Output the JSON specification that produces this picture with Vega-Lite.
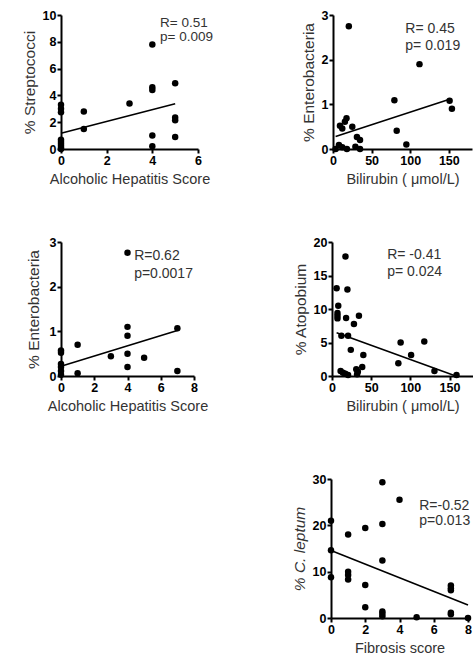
{
  "$schema": "https://vega.github.io/schema/vega-lite/v6.json",
  "padding": {"left": 22, "top": 9, "right": 0, "bottom": 0},
  "background": "white",
  "config": {
    "view": {"stroke": null},
    "axis": {"domainColor": "black", "domainWidth": 2, "tickColor": "black", "tickWidth": 2, "tickSize": 4, "labelFont": "Liberation Sans", "labelFontSize": 12.5, "labelFontWeight": "bold", "labelColor": "black", "labelPadding": 1, "titleFont": "Liberation Sans", "titleFontWeight": "normal", "titleColor": "#333", "grid": false, "labelOverlap": false, "labelFlush": false, "labelBound": false, "format": "d"},
    "axisX": {"titleFontSize": 14.5, "titlePadding": 6},
    "axisY": {"titleFontSize": 15.5, "titlePadding": 5},
    "text": {"font": "Liberation Sans", "fontSize": 14, "color": "#333", "align": "left", "baseline": "alphabetic", "lineBreak": "\n"},
    "point": {"filled": true, "color": "black", "size": 42, "opacity": 1},
    "line": {"color": "black", "strokeWidth": 1.6}
  },
  "datasets": {
    "p1": [
      {"x": 0, "y": 3.3}, {"x": 0, "y": 3.0}, {"x": 0, "y": 2.75}, {"x": 0, "y": 0.7}, {"x": 0, "y": 0.55}, {"x": 0, "y": 0.4}, {"x": 0, "y": 0.25}, {"x": 0, "y": 0.1}, {"x": 0, "y": 0},
      {"x": 1, "y": 2.8}, {"x": 1, "y": 1.5}, {"x": 3, "y": 3.4},
      {"x": 4, "y": 7.8}, {"x": 4, "y": 4.6}, {"x": 4, "y": 4.4}, {"x": 4, "y": 1.0}, {"x": 4, "y": 0.2},
      {"x": 5, "y": 4.9}, {"x": 5, "y": 2.35}, {"x": 5, "y": 2.15}, {"x": 5, "y": 0.9}
    ],
    "l1": [{"x": 0, "y": 1.17}, {"x": 5, "y": 3.38}],
    "p2": [
      {"x": 20.5, "y": 2.75}, {"x": 112, "y": 1.9}, {"x": 79.5, "y": 1.09}, {"x": 151, "y": 1.08}, {"x": 154, "y": 0.9},
      {"x": 82.5, "y": 0.41}, {"x": 95, "y": 0.1}, {"x": 17.5, "y": 0.69}, {"x": 15.4, "y": 0.61}, {"x": 9, "y": 0.52},
      {"x": 12, "y": 0.46}, {"x": 25, "y": 0.5}, {"x": 31, "y": 0.27}, {"x": 35, "y": 0.2}, {"x": 7.7, "y": 0.09},
      {"x": 12, "y": 0.04}, {"x": 3.4, "y": 0}, {"x": 18, "y": 0}, {"x": 29, "y": 0.05}, {"x": 35, "y": 0}
    ],
    "l2": [{"x": 3.4, "y": 0.28}, {"x": 150, "y": 1.11}],
    "p3": [
      {"x": 0, "y": 0.57}, {"x": 0, "y": 0.52}, {"x": 0, "y": 0.27}, {"x": 0, "y": 0.2}, {"x": 0, "y": 0.11}, {"x": 0, "y": 0.03},
      {"x": 1, "y": 0.7}, {"x": 1, "y": 0.06}, {"x": 3, "y": 0.44},
      {"x": 4, "y": 2.76}, {"x": 4, "y": 1.1}, {"x": 4, "y": 0.9}, {"x": 4, "y": 0.5}, {"x": 4, "y": 0.2},
      {"x": 5, "y": 0.41}, {"x": 7, "y": 1.07}, {"x": 7, "y": 0.11}
    ],
    "l3": [{"x": 0, "y": 0.22}, {"x": 7, "y": 1.02}],
    "p4": [
      {"x": 17.2, "y": 17.85}, {"x": 5.9, "y": 13.1}, {"x": 19.7, "y": 12.9}, {"x": 8, "y": 10.5}, {"x": 7, "y": 9.4},
      {"x": 7, "y": 9.0}, {"x": 7, "y": 8.6}, {"x": 18, "y": 8.65}, {"x": 34.4, "y": 9.0}, {"x": 28, "y": 7.75},
      {"x": 12, "y": 6.0}, {"x": 20.5, "y": 6.0}, {"x": 24, "y": 3.9}, {"x": 40, "y": 3.15}, {"x": 87.6, "y": 5.0},
      {"x": 117.8, "y": 5.15}, {"x": 101, "y": 3.15}, {"x": 84.7, "y": 1.9}, {"x": 130.8, "y": 0.75}, {"x": 159, "y": 0.15},
      {"x": 11, "y": 0.75}, {"x": 14, "y": 0.5}, {"x": 17, "y": 0.35}, {"x": 20.5, "y": 0.15}, {"x": 31, "y": 1.0},
      {"x": 33, "y": 0.65}, {"x": 38.6, "y": 1.35}, {"x": 32, "y": 0.25}
    ],
    "l4": [{"x": 5.9, "y": 6.45}, {"x": 158, "y": 0}],
    "p5": [
      {"x": 0, "y": 21}, {"x": 0, "y": 14.6}, {"x": 0, "y": 8.8},
      {"x": 1, "y": 18}, {"x": 1, "y": 10}, {"x": 1, "y": 9.3}, {"x": 1, "y": 8.3},
      {"x": 2, "y": 19.4}, {"x": 2, "y": 7.1}, {"x": 2, "y": 2.3},
      {"x": 3, "y": 29.3}, {"x": 3, "y": 20.3}, {"x": 3, "y": 12.4}, {"x": 3, "y": 1.4}, {"x": 3, "y": 0.9}, {"x": 3, "y": 0.4},
      {"x": 4, "y": 25.5}, {"x": 5, "y": 0.15},
      {"x": 7, "y": 7.0}, {"x": 7, "y": 6.4}, {"x": 7, "y": 6.0}, {"x": 7, "y": 1.15}, {"x": 7, "y": 0.8}, {"x": 8, "y": 0}
    ],
    "l5": [{"x": 0, "y": 14.57}, {"x": 8, "y": 2.8}],
    "a1": [{"x": 4.34, "y": 9.08, "label": "R= 0.51\np= 0.009"}],
    "a2": [{"x": 93.6, "y": 2.6, "label": "R= 0.45\np= 0.019"}],
    "a3": [{"x": 4.4, "y": 2.59, "label": "R=0.62\np=0.0017"}],
    "a4": [{"x": 70.4, "y": 17.5, "label": "R= -0.41\np= 0.024"}],
    "a5": [{"x": 5.15, "y": 23.3, "label": "R=-0.52\np=0.013"}]
  },
  "vconcat": [
    {
      "vconcat": [
        {
          "hconcat": [
            {
              "width": 137, "height": 134,
              "layer": [
                {"data": {"name": "p1"}, "mark": "point",
                 "encoding": {"x": {"field": "x", "type": "quantitative", "scale": {"domain": [0, 6]}, "axis": {"values": [0, 2, 4, 6], "tickCount": 20, "format": "d", "title": "Alcoholic Hepatitis Score"}},
                              "y": {"field": "y", "type": "quantitative", "scale": {"domain": [0, 10]}, "axis": {"values": [0, 2, 4, 6, 8, 10], "tickCount": 20, "format": "d", "title": "% Streptococci"}}}},
                {"data": {"name": "l1"}, "mark": "line", "encoding": {"x": {"field": "x", "type": "quantitative"}, "y": {"field": "y", "type": "quantitative"}}},
                {"data": {"name": "a1"}, "mark": {"type": "text", "lineHeight": 14, "fontSize": 13.5}, "encoding": {"x": {"field": "x", "type": "quantitative"}, "y": {"field": "y", "type": "quantitative"}, "text": {"field": "label"}}}
              ]
            },
            {
              "width": 139, "height": 134,
              "layer": [
                {"data": {"name": "p2"}, "mark": "point",
                 "encoding": {"x": {"field": "x", "type": "quantitative", "scale": {"domain": [0, 178]}, "axis": {"values": [0, 50, 100, 150], "tickCount": 20, "format": "d", "title": "Bilirubin ( μmol/L)"}},
                              "y": {"field": "y", "type": "quantitative", "scale": {"domain": [0, 3]}, "axis": {"values": [0, 1, 2, 3], "tickCount": 20, "format": "d", "title": "% Enterobacteria"}}}},
                {"data": {"name": "l2"}, "mark": "line", "encoding": {"x": {"field": "x", "type": "quantitative"}, "y": {"field": "y", "type": "quantitative"}}},
                {"data": {"name": "a2"}, "mark": {"type": "text", "lineHeight": 17.5}, "encoding": {"x": {"field": "x", "type": "quantitative"}, "y": {"field": "y", "type": "quantitative"}, "text": {"field": "label"}}}
              ]
            }
          ],
          "spacing": 87
        },
        {
          "hconcat": [
            {
              "width": 133, "height": 134,
              "layer": [
                {"data": {"name": "p3"}, "mark": "point",
                 "encoding": {"x": {"field": "x", "type": "quantitative", "scale": {"domain": [0, 8]}, "axis": {"values": [0, 2, 4, 6, 8], "tickCount": 20, "format": "d", "title": "Alcoholic Hepatitis Score"}},
                              "y": {"field": "y", "type": "quantitative", "scale": {"domain": [0, 3]}, "axis": {"values": [0, 1, 2, 3], "tickCount": 20, "format": "d", "titlePadding": 8, "title": "% Enterobacteria"}}}},
                {"data": {"name": "l3"}, "mark": "line", "encoding": {"x": {"field": "x", "type": "quantitative"}, "y": {"field": "y", "type": "quantitative"}}},
                {"data": {"name": "a3"}, "mark": {"type": "text", "lineHeight": 18}, "encoding": {"x": {"field": "x", "type": "quantitative"}, "y": {"field": "y", "type": "quantitative"}, "text": {"field": "label"}}}
              ]
            },
            {
              "width": 141, "height": 134,
              "layer": [
                {"data": {"name": "p4"}, "mark": "point",
                 "encoding": {"x": {"field": "x", "type": "quantitative", "scale": {"domain": [0, 178]}, "axis": {"values": [0, 50, 100, 150], "tickCount": 20, "format": "d", "title": "Bilirubin ( μmol/L)"}},
                              "y": {"field": "y", "type": "quantitative", "scale": {"domain": [0, 20]}, "axis": {"values": [0, 5, 10, 15, 20], "tickCount": 20, "format": "d", "title": "% Atopobium"}}}},
                {"data": {"name": "l4"}, "mark": "line", "encoding": {"x": {"field": "x", "type": "quantitative"}, "y": {"field": "y", "type": "quantitative"}}},
                {"data": {"name": "a4"}, "mark": {"type": "text", "lineHeight": 17}, "encoding": {"x": {"field": "x", "type": "quantitative"}, "y": {"field": "y", "type": "quantitative"}, "text": {"field": "label"}}}
              ]
            }
          ],
          "spacing": 85
        }
      ],
      "spacing": 50
    },
    {
      "hconcat": [
        {"width": 211, "height": 139, "data": {"values": []}, "mark": "point"},
        {
          "width": 137, "height": 139,
          "layer": [
            {"data": {"name": "p5"}, "mark": "point",
             "encoding": {"x": {"field": "x", "type": "quantitative", "scale": {"domain": [0, 8]}, "axis": {"values": [0, 2, 4, 6, 8], "tickCount": 20, "format": "d", "title": "Fibrosis score"}},
                          "y": {"field": "y", "type": "quantitative", "scale": {"domain": [0, 30]}, "axis": {"values": [0, 10, 20, 30], "tickCount": 20, "format": "d", "title": "% C. leptum", "titleFontStyle": "italic"}}}},
            {"data": {"name": "l5"}, "mark": "line", "encoding": {"x": {"field": "x", "type": "quantitative"}, "y": {"field": "y", "type": "quantitative"}}},
            {"data": {"name": "a5"}, "mark": {"type": "text", "lineHeight": 15}, "encoding": {"x": {"field": "x", "type": "quantitative"}, "y": {"field": "y", "type": "quantitative"}, "text": {"field": "label"}}}
          ]
        }
      ],
      "spacing": 20
    }
  ],
  "spacing": 60
}
